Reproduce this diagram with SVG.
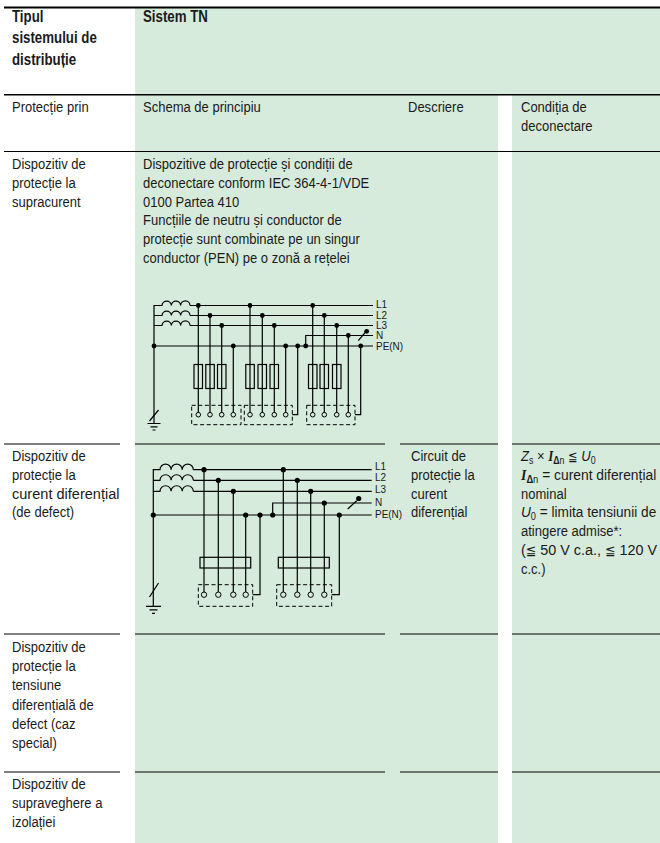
<svg xmlns="http://www.w3.org/2000/svg" width="660" height="843" viewBox="0 0 660 843">
<style>
text{font-family:"Liberation Sans",Arial,sans-serif;font-size:15.5px;fill:#1a1a1a}
.b{font-weight:bold}
.hd{font-size:16px;font-weight:bold}
.bg{fill:#d6ebdc}
.rule{stroke:#000;stroke-width:1;fill:none}
.w{stroke:#000;stroke-width:1.2;fill:none}
.fuse{fill:none;stroke:#000;stroke-width:1.2}
.box{fill:none;stroke:#000;stroke-width:1;stroke-dasharray:4 2.6}
.dot{fill:#000}
.term{fill:none;stroke:#000;stroke-width:1}
.lbl{font-size:11.5px}
.sub{font-size:10.5px}
.it{font-style:italic}
.bi{font-family:"Liberation Serif",serif;font-style:italic;font-weight:bold}
.sym{font-family:"DejaVu Sans",sans-serif;font-size:13.5px}
</style>

<g id="backgrounds">
  <rect class="bg" x="135" y="8" width="525" height="87"/>
  <rect class="bg" x="135" y="95" width="363" height="748"/>
  <rect class="bg" x="512" y="95" width="148" height="748"/>
</g>

<g id="grid-lines">
  <path class="rule" style="stroke-width:2" d="M4,7.5 H660"/>
  <path class="rule" style="stroke-width:1.5" d="M4,94.8 H660"/>
  <path class="rule" d="M4,151.5 H660"/>
  <path class="rule" d="M4,444 H120 M135,444 H385 M400,444 H498 M512,444 H660"/>
  <path class="rule" d="M4,634 H120 M135,634 H385 M400,634 H498 M512,634 H660"/>
  <path class="rule" d="M4,772 H120 M135,772 H385 M400,772 H498 M512,772 H660"/>
</g>

<g id="header">
  <g transform="translate(12 0) scale(0.83 1)">
    <text class="hd" x="0" y="22">Tipul</text>
    <text class="hd" x="0" y="43.5">sistemului de</text>
    <text class="hd" x="0" y="65">distribuție</text>
  </g>
  <g transform="translate(143 0) scale(0.83 1)">
    <text class="hd" x="0" y="22">Sistem TN</text>
  </g>
</g>

<g id="row-protectie-prin">
  <g transform="translate(12 0) scale(0.84 1)"><text x="0" y="112">Protecție prin</text></g>
  <g transform="translate(143 0) scale(0.84 1)"><text x="0" y="112">Schema de principiu</text></g>
  <g transform="translate(408 0) scale(0.84 1)"><text x="0" y="112">Descriere</text></g>
  <g transform="translate(521 0) scale(0.84 1)">
    <text x="0" y="112">Condiția de</text>
    <text x="0" y="131">deconectare</text>
  </g>
</g>

<g id="row-supracurent">
  <g transform="translate(12 0) scale(0.84 1)">
    <text x="0" y="169">Dispozitiv de</text>
    <text x="0" y="187.8">protecție la</text>
    <text x="0" y="206.6">supracurent</text>
  </g>
  <g transform="translate(143 0) scale(0.84 1)">
    <text x="0" y="169">Dispozitive de protecție și condiții de</text>
    <text x="0" y="187.8">deconectare conform IEC 364-4-1/VDE</text>
    <text x="0" y="206.6">0100 Partea 410</text>
    <text x="0" y="225.4">Funcțiile de neutru și conductor de</text>
    <text x="0" y="244.2">protecție sunt combinate pe un singur</text>
    <text x="0" y="263">conductor (PEN) pe o zonă a rețelei</text>
  </g>
</g>

<g id="diagram-1" transform="translate(0 -2)">
  <g id="d1-source">
    <path class="w" d="M154,425.5 V307.5 H162 a4.67,4.67 0 0 1 9.33,0 a4.67,4.67 0 0 1 9.33,0 a4.67,4.67 0 0 1 9.34,0"/>
    <path class="w" d="M154,317.5 H162 a4.67,4.67 0 0 1 9.33,0 a4.67,4.67 0 0 1 9.33,0 a4.67,4.67 0 0 1 9.34,0"/>
    <path class="w" d="M154,327.5 H162 a4.67,4.67 0 0 1 9.33,0 a4.67,4.67 0 0 1 9.33,0 a4.67,4.67 0 0 1 9.34,0"/>
    <path class="w" d="M149.5,423 L158.5,412 M147.5,425.5 H160.5 M150.5,428.8 H157.5 M152.5,432 H155.5"/>
  </g>
  <g id="d1-connectors">
    <path class="w" d="M190,307.5 H373 M190,317.5 H373 M190,327.5 H373 M305.7,348 V337.5 H373 M154,348 H373"/>
    <path class="w" d="M198.3,307.5 V414.4 M210,317.5 V414.4 M221.7,327.5 V414.4 M233.3,348 V414.4"/>
    <path class="w" d="M250,307.5 V414.4 M262.3,317.5 V414.4 M274.3,327.5 V414.4 M285.7,348 V414.4 M292.3,416.7 H297.7 V348"/>
    <path class="w" d="M312.7,307.5 V414.4 M324.3,317.5 V414.4 M336.7,327.5 V414.4 M348.3,337.5 V414.4 M355,416.7 H360.7 V348"/>
    <path class="w" d="M358.3,342.7 L366,333.5"/>
  </g>
  <g id="d1-fuses">
    <rect class="fuse" x="194" y="366.5" width="8.5" height="24"/>
    <rect class="fuse" x="205.8" y="366.5" width="8.5" height="24"/>
    <rect class="fuse" x="217.5" y="366.5" width="8.5" height="24"/>
    <rect class="fuse" x="245.8" y="366.5" width="8.5" height="24"/>
    <rect class="fuse" x="258" y="366.5" width="8.5" height="24"/>
    <rect class="fuse" x="270" y="366.5" width="8.5" height="24"/>
    <rect class="fuse" x="308.5" y="366.5" width="8.5" height="24"/>
    <rect class="fuse" x="320" y="366.5" width="8.5" height="24"/>
    <rect class="fuse" x="332.5" y="366.5" width="8.5" height="24"/>
  </g>
  <g id="d1-consumers">
    <rect class="box" x="191.7" y="407.3" width="49.3" height="19.4"/>
    <rect class="box" x="244.3" y="407.3" width="48" height="19.4"/>
    <rect class="box" x="306.7" y="407.3" width="48.3" height="19.4"/>
    <circle class="term" cx="198.3" cy="416.7" r="2.3"/>
    <circle class="term" cx="210" cy="416.7" r="2.3"/>
    <circle class="term" cx="221.7" cy="416.7" r="2.3"/>
    <circle class="term" cx="233.3" cy="416.7" r="2.3"/>
    <circle class="term" cx="250" cy="416.7" r="2.3"/>
    <circle class="term" cx="262.3" cy="416.7" r="2.3"/>
    <circle class="term" cx="274.3" cy="416.7" r="2.3"/>
    <circle class="term" cx="285.7" cy="416.7" r="2.3"/>
    <circle class="term" cx="312.7" cy="416.7" r="2.3"/>
    <circle class="term" cx="324.3" cy="416.7" r="2.3"/>
    <circle class="term" cx="336.7" cy="416.7" r="2.3"/>
    <circle class="term" cx="348.3" cy="416.7" r="2.3"/>
  </g>
  <g id="d1-junctions">
    <circle class="dot" cx="154" cy="348" r="2.4"/>
    <circle class="dot" cx="233.3" cy="348" r="2.4"/>
    <circle class="dot" cx="285.7" cy="348" r="2.4"/>
    <circle class="dot" cx="297.7" cy="348" r="2.4"/>
    <circle class="dot" cx="305.7" cy="348" r="2.4"/>
    <circle class="dot" cx="360.7" cy="348" r="2.4"/>
    <circle class="dot" cx="198.3" cy="307.5" r="2.4"/>
    <circle class="dot" cx="250" cy="307.5" r="2.4"/>
    <circle class="dot" cx="312.7" cy="307.5" r="2.4"/>
    <circle class="dot" cx="210" cy="317.5" r="2.4"/>
    <circle class="dot" cx="262.3" cy="317.5" r="2.4"/>
    <circle class="dot" cx="324.3" cy="317.5" r="2.4"/>
    <circle class="dot" cx="221.7" cy="327.5" r="2.4"/>
    <circle class="dot" cx="274.3" cy="327.5" r="2.4"/>
    <circle class="dot" cx="336.7" cy="327.5" r="2.4"/>
    <circle class="dot" cx="348.3" cy="337.5" r="2.4"/>
    <circle class="dot" cx="366.7" cy="333.3" r="2.4"/>
  </g>
  <g id="d1-labels" transform="translate(376 0) scale(0.867 1)">
    <text class="lbl" x="0" y="310.5">L1</text>
    <text class="lbl" x="0" y="320.6">L2</text>
    <text class="lbl" x="0" y="330.7">L3</text>
    <text class="lbl" x="0" y="341.3">N</text>
    <text class="lbl" x="0" y="351.8">PE(N)</text>
  </g>
</g>

<g id="row-curent-diferential">
  <g transform="translate(12 0) scale(0.84 1)">
    <text x="0" y="461">Dispozitiv de</text>
    <text x="0" y="479.8">protecție la</text>
    <text x="0" y="498.6" textLength="128" lengthAdjust="spacingAndGlyphs">curent diferențial</text>
    <text x="0" y="517.4">(de defect)</text>
  </g>
  <g transform="translate(411 0) scale(0.84 1)">
    <text x="0" y="461">Circuit de</text>
    <text x="0" y="479.8">protecție la</text>
    <text x="0" y="498.6">curent</text>
    <text x="0" y="517.4">diferențial</text>
  </g>
  <g transform="translate(521 0) scale(0.84 1)">
    <text x="0" y="461"><tspan class="it">Z</tspan><tspan class="sub" dy="3">s</tspan><tspan dy="-3"> × </tspan><tspan class="bi">I</tspan><tspan class="sub b" dy="3">Δ</tspan><tspan class="sub">n</tspan><tspan dy="-3"> </tspan><tspan class="sym">≦</tspan><tspan> </tspan><tspan class="it">U</tspan><tspan class="sub" dy="3">0</tspan></text>
    <text x="0" y="479.8" textLength="161" lengthAdjust="spacingAndGlyphs"><tspan class="bi">I</tspan><tspan class="sub b" dy="3">Δ</tspan><tspan class="sub">n</tspan><tspan dy="-3"> = curent diferențial</tspan></text>
    <text x="0" y="498.6">nominal</text>
    <text x="0" y="517.4" textLength="161" lengthAdjust="spacingAndGlyphs"><tspan class="it">U</tspan><tspan class="sub" dy="3">0</tspan><tspan dy="-3"> = limita tensiunii de</tspan></text>
    <text x="0" y="536.2">atingere admise*:</text>
    <text x="0" y="555" textLength="162" lengthAdjust="spacingAndGlyphs">(<tspan class="sym">≦</tspan> 50 V c.a., <tspan class="sym">≦</tspan> 120 V</text>
    <text x="0" y="573.8">c.c.)</text>
  </g>
</g>

<g id="diagram-2" transform="translate(0 -2)">
  <g id="d2-source">
    <path class="w" d="M153.3,608.3 V471.7 H160 a5.55,5.55 0 0 1 11.1,0 a5.55,5.55 0 0 1 11.1,0 a5.55,5.55 0 0 1 11.1,0"/>
    <path class="w" d="M153.3,482.3 H160 a5.55,5.55 0 0 1 11.1,0 a5.55,5.55 0 0 1 11.1,0 a5.55,5.55 0 0 1 11.1,0"/>
    <path class="w" d="M153.3,493.3 H160 a5.55,5.55 0 0 1 11.1,0 a5.55,5.55 0 0 1 11.1,0 a5.55,5.55 0 0 1 11.1,0"/>
    <path class="w" d="M149.5,599 L158.5,585 M146,608.3 H161 M149.5,611.8 H157.5 M152,615.3 H155"/>
  </g>
  <g id="d2-connectors">
    <path class="w" d="M193.3,471.7 H371.7 M193.3,482.3 H371.7 M193.3,493.3 H371.7 M272.7,517 V505 H371.7 M153.3,517 H371.7"/>
    <path class="w" d="M204,471.7 V594 M218.3,482.3 V594 M233.3,493.3 V594 M245.7,517 V594 M252.7,596.7 H260 V517"/>
    <path class="w" d="M283.3,471.7 V594 M297.3,482.3 V594 M310.7,493.3 V594 M324.3,505 V594 M331.7,596.7 H339.3 V517"/>
    <path class="w" d="M347.7,511 L356.7,502.7"/>
  </g>
  <g id="d2-rcd">
    <rect class="fuse" x="200" y="559.3" width="50.7" height="10.7"/>
    <rect class="fuse" x="278.3" y="559.3" width="51" height="10.7"/>
  </g>
  <g id="d2-consumers">
    <rect class="box" x="198.3" y="586.7" width="54.4" height="21.6"/>
    <rect class="box" x="276.7" y="586.7" width="55" height="21.6"/>
    <circle class="term" cx="204" cy="596.7" r="2.7"/>
    <circle class="term" cx="218.3" cy="596.7" r="2.7"/>
    <circle class="term" cx="233.3" cy="596.7" r="2.7"/>
    <circle class="term" cx="245.7" cy="596.7" r="2.7"/>
    <circle class="term" cx="283.3" cy="596.7" r="2.7"/>
    <circle class="term" cx="297.3" cy="596.7" r="2.7"/>
    <circle class="term" cx="310.7" cy="596.7" r="2.7"/>
    <circle class="term" cx="324.3" cy="596.7" r="2.7"/>
  </g>
  <g id="d2-junctions">
    <circle class="dot" cx="153.3" cy="517" r="2.6"/>
    <circle class="dot" cx="245.7" cy="517" r="2.6"/>
    <circle class="dot" cx="260" cy="517" r="2.6"/>
    <circle class="dot" cx="272.7" cy="517" r="2.6"/>
    <circle class="dot" cx="339.3" cy="517" r="2.6"/>
    <circle class="dot" cx="204" cy="471.7" r="2.6"/>
    <circle class="dot" cx="283.3" cy="471.7" r="2.6"/>
    <circle class="dot" cx="218.3" cy="482.3" r="2.6"/>
    <circle class="dot" cx="297.3" cy="482.3" r="2.6"/>
    <circle class="dot" cx="233.3" cy="493.3" r="2.6"/>
    <circle class="dot" cx="310.7" cy="493.3" r="2.6"/>
    <circle class="dot" cx="324.3" cy="505" r="2.6"/>
    <circle class="dot" cx="358.7" cy="500.5" r="2.6"/>
  </g>
  <g id="d2-labels" transform="translate(375 0) scale(0.867 1)">
    <text class="lbl" x="0" y="472.5">L1</text>
    <text class="lbl" x="0" y="483.5">L2</text>
    <text class="lbl" x="0" y="495.5">L3</text>
    <text class="lbl" x="0" y="508">N</text>
    <text class="lbl" x="0" y="520">PE(N)</text>
  </g>
</g>

<g id="row-tensiune-diferentiala" transform="translate(12 0) scale(0.84 1)">
  <text x="0" y="652">Dispozitiv de</text>
  <text x="0" y="671.2">protecție la</text>
  <text x="0" y="690.4">tensiune</text>
  <text x="0" y="709.6">diferențială de</text>
  <text x="0" y="728.8">defect (caz</text>
  <text x="0" y="748">special)</text>
</g>

<g id="row-supraveghere" transform="translate(12 0) scale(0.84 1)">
  <text x="0" y="789">Dispozitiv de</text>
  <text x="0" y="808.2">supraveghere a</text>
  <text x="0" y="827.4">izolației</text>
</g>
</svg>
